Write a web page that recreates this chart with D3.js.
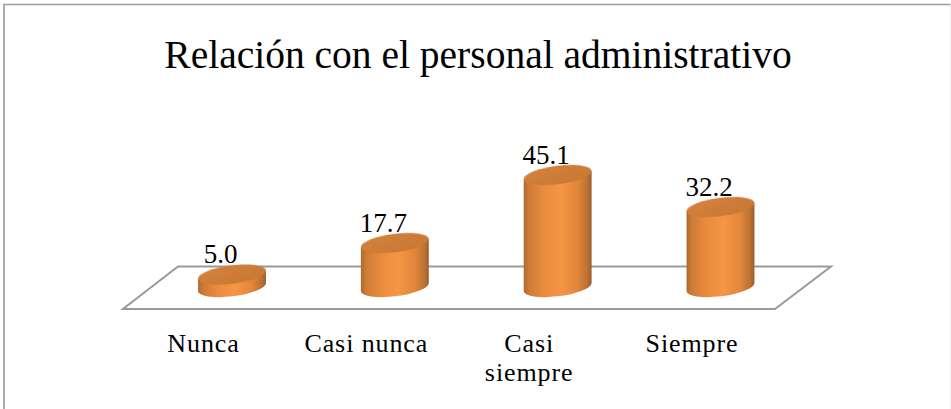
<!DOCTYPE html>
<html><head><meta charset="utf-8">
<script src="https://cdn.jsdelivr.net/npm/d3@7"></script>
<style>html,body{margin:0;padding:0;background:#fff}svg{display:block}text{font-family:"Liberation Serif",serif;fill:#000}</style>
</head><body><svg id="c" width="951" height="409"></svg>
<script>
const title = "Relación con el personal administrativo";
const categories = ["Nunca", "Casi nunca", "Casi siempre", "Siempre"];
const categoryLines = [["Nunca"], ["Casi nunca"], ["Casi", "siempre"], ["Siempre"]];
const values = [5.0, 17.7, 45.1, 32.2];

const W = 951, H = 409;
const svg = d3.select("#c");
const x = d3.scalePoint().domain(categories).range([232, 720.5]);
const y = d3.scaleLinear().domain([0, 45.1]).range([287, 175]);

const a = 34.2, b = 9.3, thetaDeg = 7.2, th = thetaDeg * Math.PI / 180;
const halfW = Math.sqrt(a*a*Math.cos(th)**2 + b*b*Math.sin(th)**2);
const dy = (a*a - b*b) * Math.sin(th) * Math.cos(th) / halfW;

const defs = svg.append("defs");
const bodyGrad = defs.append("linearGradient").attr("id", "bodyGrad");
[[0,"#ad6a30"],[0.08,"#cf7c36"],[0.3,"#e98c3e"],[0.55,"#f59645"],[0.8,"#e0853a"],[0.94,"#bb7033"],[1,"#9a5f2e"]]
  .forEach(s => bodyGrad.append("stop").attr("offset", s[0]).attr("stop-color", s[1]));
const topGrad = defs.append("linearGradient").attr("id", "topGrad").attr("x1",0).attr("y1",0).attr("x2",1).attr("y2",1);
[[0,"#d5823c"],[1,"#c67734"]].forEach(s => topGrad.append("stop").attr("offset", s[0]).attr("stop-color", s[1]));
defs.append("filter").attr("id","soft").attr("x","-5%").attr("y","-5%").attr("width","110%").attr("height","110%")
  .append("feGaussianBlur").attr("stdDeviation",0.6);

// frame
svg.append("path").attr("d", `M4,${H}V4.5H${W-0.5}`).attr("fill","none").attr("stroke","#9c9c9c").attr("stroke-width",1.7);
svg.append("path").attr("d", `M${W-0.5},5V${H}`).attr("fill","none").attr("stroke","#efefef").attr("stroke-width",1);

// floor
const floorBack = 266.5, floorFront = 309;
svg.append("path")
  .attr("d", `M178,${floorBack}H831L775,${floorFront}H123Z`)
  .attr("fill","#fff").attr("stroke","#9a9a9a").attr("stroke-width",2);

// cylinders
const g = svg.append("g").selectAll("g").data(categories).join("g");
g.append("path").attr("filter","url(#soft)").attr("fill","url(#bodyGrad)")
  .attr("d", (c,i) => {
    const cx = x(c), y0 = y(0), y1 = y(values[i]);
    return `M${cx-halfW},${y1+dy}L${cx-halfW},${y0+dy}A${a},${b} ${-thetaDeg} 0 0 ${cx+halfW},${y0-dy}L${cx+halfW},${y1-dy}Z`;
  });
g.append("ellipse").attr("fill","url(#topGrad)").attr("filter","url(#soft)")
  .attr("rx",a).attr("ry",b)
  .attr("transform",(c,i)=>`translate(${x(c)},${y(values[i])}) rotate(${-thetaDeg})`);

// value labels
svg.append("g").selectAll("text").data(values).join("text")
  .attr("x",(v,i)=>x(categories[i])-11.5).attr("y",v=>y(v)-11.5)
  .attr("text-anchor","middle").attr("font-size",27).text(v=>v.toFixed(1));

// category labels
const lab = svg.append("g").selectAll("text").data(categories).join("text")
  .attr("text-anchor","middle").attr("font-size",26).attr("letter-spacing",0.9)
  .attr("transform",c=>`translate(${x(c)-28.5},352)`);
lab.selectAll("tspan").data((c,i)=>categoryLines[i]).join("tspan")
  .attr("x",0).attr("y",(d,i)=>i*29).text(d=>d);

// title
svg.append("text").attr("x",478).attr("y",68).attr("text-anchor","middle").attr("font-size",39.5).text(title);
</script></body></html>
